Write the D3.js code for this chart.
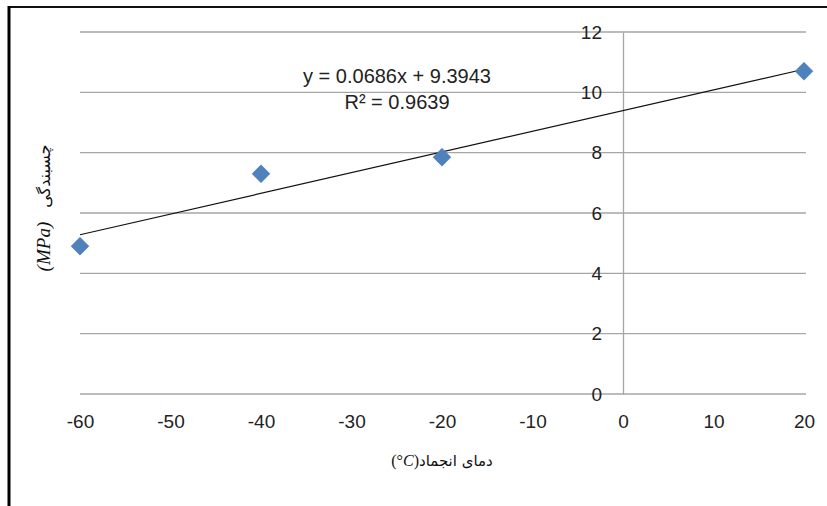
<!DOCTYPE html>
<html><head><meta charset="utf-8">
<script src="https://cdn.jsdelivr.net/npm/d3@7"></script>
<style>body{margin:0;background:#fff}svg{display:block}</style>
</head><body>
<svg id="c" width="827" height="506"></svg>
<script>
const temps = [-60, -40, -20, 20];
const adhesion = [4.9, 7.3, 7.85, 10.7];
const xTicks = [-60, -50, -40, -30, -20, -10, 0, 10, 20];
const yTicks = [0, 2, 4, 6, 8, 10, 12];
const slope = 0.0686, intercept = 9.3943;
const eqLabel = "y = 0.0686x + 9.3943";
const r2Label = "R² = 0.9639";
const xTitle = "دمای انجماد";
const yTitle = "چسبندگی";

const svg = d3.select("#c");
const x = d3.scaleLinear().domain([-60, 20]).range([80, 804]);
const y = d3.scaleLinear().domain([0, 12]).range([394, 32]);

// frame
svg.append("line").attr("x1",8).attr("x2",827).attr("y1",7).attr("y2",7).attr("stroke","#111").attr("stroke-width",2);
svg.append("line").attr("x1",9).attr("x2",9).attr("y1",6).attr("y2",506).attr("stroke","#000").attr("stroke-width",3);

// gridlines
svg.append("g").selectAll("line").data(yTicks).join("line")
  .attr("x1", x(-60)).attr("x2", x(20) + 2)
  .attr("y1", d => y(d)).attr("y2", d => y(d))
  .attr("stroke", "#a6a6a6").attr("stroke-width", 1.3);

// y axis at x=0
const yAxis = d3.axisLeft(y).tickValues(yTicks).tickSize(0).tickPadding(21);
const ga = svg.append("g").attr("transform", `translate(${x(0)},0)`).call(yAxis);
ga.select(".domain").attr("stroke", "#a6a6a6").attr("stroke-width", 1.3);
ga.selectAll("text").attr("font-family", "Liberation Sans, Arial, sans-serif").attr("font-size", 19).attr("fill", "#222");

// x axis labels
const xAxis = d3.axisBottom(x).tickValues(xTicks).tickSize(0).tickPadding(21).tickFormat(d => String(d));
const gx = svg.append("g").attr("transform", `translate(0,${y(0)})`).call(xAxis);
gx.select(".domain").remove();
gx.selectAll("text").attr("font-family", "Liberation Sans, Arial, sans-serif").attr("font-size", 19).attr("fill", "#222");

// trendline
const xd = x.domain();
svg.append("line")
  .attr("x1", x(xd[0])).attr("y1", y(slope*xd[0]+intercept))
  .attr("x2", x(xd[1])).attr("y2", y(slope*xd[1]+intercept))
  .attr("stroke", "#111").attr("stroke-width", 1.2);

// points
const sym = d3.symbol().type(d3.symbolSquare).size(160);
svg.append("g").selectAll("path").data(temps).join("path")
  .attr("d", sym)
  .attr("transform", (d,i) => `translate(${x(d)},${y(adhesion[i])}) rotate(45)`)
  .attr("fill", "#4f81bd").attr("stroke", "#4a7ab5").attr("stroke-width", 0.5);

// equation
svg.append("text").attr("x", 397).attr("y", 83).attr("text-anchor", "middle")
  .attr("font-family", "Liberation Sans, sans-serif").attr("font-size", 20).attr("fill", "#222")
  .text(eqLabel);
svg.append("text").attr("x", 397).attr("y", 109).attr("text-anchor", "middle")
  .attr("font-family", "Liberation Sans, sans-serif").attr("font-size", 20).attr("fill", "#222")
  .text(r2Label);

// x title
const xt = svg.append("text").attr("x", 442).attr("y", 466).attr("text-anchor", "middle")
  .attr("font-family", "DejaVu Sans, sans-serif").attr("font-size", 15).attr("fill", "#111");
xt.append("tspan").attr("font-family","Liberation Serif, serif").attr("font-size",16).text("(°");
xt.append("tspan").attr("font-family","Liberation Serif, serif").attr("font-size",16).attr("font-style","italic").text("C");
xt.append("tspan").attr("font-family","Liberation Serif, serif").attr("font-size",16).text(")");
xt.append("tspan").text(xTitle);

// y title
const yt = svg.append("text").attr("transform", "translate(50,208) rotate(-90)").attr("text-anchor", "middle")
  .attr("font-size", 16).attr("fill", "#111");
yt.append("tspan").attr("font-family","Liberation Serif, serif").attr("font-style","italic").attr("font-size",19).text("(MPa)");
yt.append("tspan").attr("font-family","DejaVu Sans, sans-serif").attr("dx", 14).text(yTitle);
</script>
</body></html>
